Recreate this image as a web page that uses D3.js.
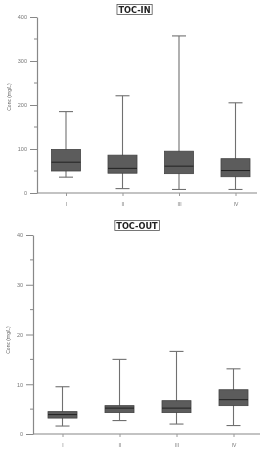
<!DOCTYPE html>
<html>
<head>
<meta charset="utf-8">
<script src="https://cdn.jsdelivr.net/npm/d3@7"></script>
<style>
  body { margin: 0; background: #fff; }
  svg { display: block; font-family: "Liberation Sans", Arial, sans-serif; filter: blur(0.3px); }
</style>
</head>
<body>
<svg id="chart" width="265" height="451"></svg>
<script>
// categories (periods)
const categories = ["I", "II", "III", "IV"];

// TOC-IN box stats (mg/L)
const tocInMin = [36, 10, 8, 8];
const tocInQ1 = [50, 45, 44, 37];
const tocInMedian = [70, 56, 61, 51];
const tocInQ3 = [99, 86, 95, 78];
const tocInMax = [185, 221, 357, 205];
const tocInTicks = [0, 100, 200, 300, 400];

// TOC-OUT box stats (mg/L)
const tocOutMin = [1.6, 2.7, 2.0, 1.7];
const tocOutQ1 = [3.2, 4.3, 4.3, 5.7];
const tocOutMedian = [3.9, 5.2, 5.2, 6.9];
const tocOutQ3 = [4.5, 5.7, 6.7, 8.9];
const tocOutMax = [9.5, 15.0, 16.6, 13.1];
const tocOutTicks = [0, 10, 20, 30, 40];

const svg = d3.select("#chart");

function drawPanel(opts) {
  const g = svg.append("g");
  const rows = categories.map((c, i) => ({
    cat: c,
    min: opts.min[i],
    q1: opts.q1[i],
    median: opts.median[i],
    q3: opts.q3[i],
    max: opts.max[i],
  }));

  const xScale = d3.scalePoint().domain(categories).range(opts.xRange);
  const yScale = d3.scaleLinear().domain([0, opts.ticks[opts.ticks.length - 1]]).range(opts.yRange);
  const boxWidth = 29;
  const capWidth = 14;

  // title with frame
  const title = g.append("text")
    .attr("x", opts.titleX)
    .attr("y", opts.titleY)
    .attr("text-anchor", "middle")
    .attr("dominant-baseline", "central")
    .attr("font-family", "'DejaVu Sans', sans-serif")
    .attr("font-size", 8.2)
    .attr("font-weight", "bold")
    .attr("fill", "#222")
    .text(opts.title);
  const bb = title.node().getBBox();
  g.append("rect")
    .attr("x", bb.x - 1.5)
    .attr("y", opts.titleY - 5)
    .attr("width", bb.width + 3)
    .attr("height", 10)
    .attr("fill", "none")
    .attr("stroke", "#555")
    .attr("stroke-width", 0.8);

  // y axis (major ticks outside)
  const yAxis = g.append("g")
    .attr("transform", `translate(${opts.axisX},0)`)
    .call(d3.axisLeft(yScale).tickValues(opts.ticks).tickSize(7).tickPadding(3).tickSizeOuter(0));
  yAxis.select(".domain").attr("stroke", "#888").attr("stroke-width", 1.2);
  yAxis.selectAll(".tick line").attr("stroke", "#888");
  yAxis.selectAll(".tick text").attr("fill", "#777").attr("font-size", 5.5);

  // minor ticks
  const minorTicks = d3.range(0, opts.ticks.length - 1).map((i) => (opts.ticks[i] + opts.ticks[i + 1]) / 2);
  g.selectAll(".minor")
    .data(minorTicks)
    .enter()
    .append("line")
    .attr("x1", opts.axisX - 3)
    .attr("x2", opts.axisX)
    .attr("y1", (d) => yScale(d))
    .attr("y2", (d) => yScale(d))
    .attr("stroke", "#888");

  // y axis label
  g.append("text")
    .attr("transform", `translate(${opts.labelX},${opts.labelY}) rotate(-90)`)
    .attr("text-anchor", "middle")
    .attr("font-size", 5)
    .attr("fill", "#666")
    .text("Conc (mg/L)");

  // x axis
  g.append("line")
    .attr("x1", opts.axisX)
    .attr("x2", opts.axisEnd)
    .attr("y1", yScale(0))
    .attr("y2", yScale(0))
    .attr("stroke", "#888")
    .attr("stroke-width", 1.2);
  const xAxis = g.append("g")
    .attr("transform", `translate(0,${yScale(0)})`)
    .call(d3.axisBottom(xScale).tickSize(3).tickPadding(6).tickSizeOuter(0));
  xAxis.select(".domain").remove();
  xAxis.selectAll(".tick line").attr("stroke", "#999");
  xAxis.selectAll(".tick text").attr("fill", "#777").attr("font-size", 5);

  // whiskers
  g.selectAll(".whisker")
    .data(rows)
    .enter()
    .append("line")
    .attr("x1", (d) => xScale(d.cat))
    .attr("x2", (d) => xScale(d.cat))
    .attr("y1", (d) => yScale(d.min))
    .attr("y2", (d) => yScale(d.max))
    .attr("stroke", "#707070")
    .attr("stroke-width", 1.1);

  ["min", "max"].forEach((key) => {
    g.selectAll(".cap-" + key)
      .data(rows)
      .enter()
      .append("line")
      .attr("x1", (d) => xScale(d.cat) - capWidth / 2)
      .attr("x2", (d) => xScale(d.cat) + capWidth / 2)
      .attr("y1", (d) => yScale(d[key]))
      .attr("y2", (d) => yScale(d[key]))
      .attr("stroke", "#707070")
      .attr("stroke-width", 1.1);
  });

  // boxes
  g.selectAll(".box")
    .data(rows)
    .enter()
    .append("rect")
    .attr("x", (d) => xScale(d.cat) - boxWidth / 2)
    .attr("width", boxWidth)
    .attr("y", (d) => yScale(d.q3))
    .attr("height", (d) => yScale(d.q1) - yScale(d.q3))
    .attr("fill", "#5c5c5c")
    .attr("stroke", "#444")
    .attr("stroke-width", 0.8);

  // medians
  g.selectAll(".median")
    .data(rows)
    .enter()
    .append("line")
    .attr("x1", (d) => xScale(d.cat) - boxWidth / 2)
    .attr("x2", (d) => xScale(d.cat) + boxWidth / 2)
    .attr("y1", (d) => yScale(d.median))
    .attr("y2", (d) => yScale(d.median))
    .attr("stroke", "#222")
    .attr("stroke-width", 1);
}

drawPanel({
  title: "TOC-IN",
  titleX: 134.5,
  titleY: 9.5,
  min: tocInMin,
  q1: tocInQ1,
  median: tocInMedian,
  q3: tocInQ3,
  max: tocInMax,
  ticks: tocInTicks,
  xRange: [66, 235.5],
  yRange: [193, 17],
  axisX: 37,
  axisEnd: 257,
  labelX: 11,
  labelY: 97,
});

drawPanel({
  title: "TOC-OUT",
  titleX: 137,
  titleY: 225.5,
  min: tocOutMin,
  q1: tocOutQ1,
  median: tocOutMedian,
  q3: tocOutQ3,
  max: tocOutMax,
  ticks: tocOutTicks,
  xRange: [62.5, 233.5],
  yRange: [434, 235],
  axisX: 33,
  axisEnd: 260,
  labelX: 10,
  labelY: 340,
});
</script>
</body>
</html>
